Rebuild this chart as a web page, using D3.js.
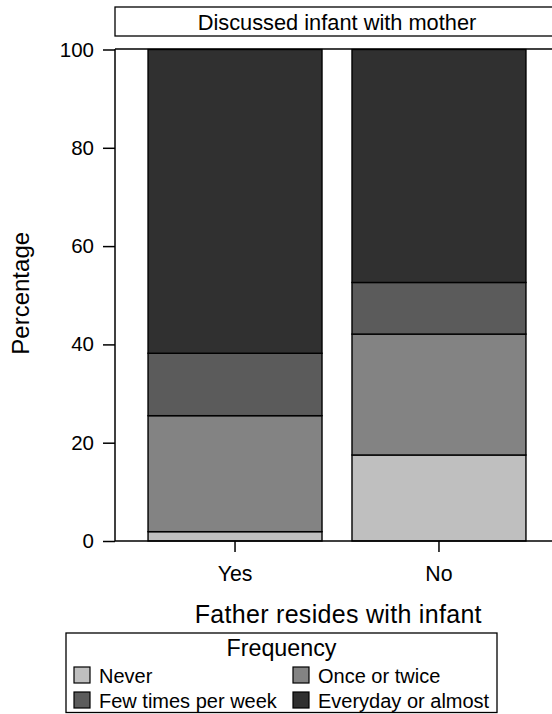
<!DOCTYPE html>
<html>
<head>
<meta charset="utf-8">
<script src="https://cdn.jsdelivr.net/npm/d3@7"></script>
<style>
  html, body { margin: 0; padding: 0; background: #fff; }
  svg { display: block; font-family: "Liberation Sans", Arial, Helvetica, sans-serif; }
</style>
</head>
<body>
<svg id="chart" width="552" height="714"></svg>
<script>
// Father residence groups along the x axis
const categories = ["Yes", "No"];
// Frequency levels, stacked bottom to top
const levels = ["Never", "Once or twice", "Few times per week", "Everyday or almost"];
// Percentage of each frequency level within each group
const never          = [1.9, 17.5];
const onceOrTwice    = [23.6, 24.6];
const fewTimesWeek   = [12.7, 10.5];
const everydayAlmost = [61.8, 47.4];
const yTicks = [0, 20, 40, 60, 80, 100];
const fills = ["#bfbfbf", "#838383", "#5b5b5b", "#303030"];

const seriesValues = [never, onceOrTwice, fewTimesWeek, everydayAlmost];
const rows = categories.map((c, i) => {
  const r = { cat: c };
  levels.forEach((l, j) => { r[l] = seriesValues[j][i]; });
  return r;
});

const svg = d3.select("#chart");
const plot = { left: 115, right: 559, top: 49, bottom: 541 };

const x = d3.scaleBand()
  .domain(categories)
  .range([plot.left, plot.right])
  .paddingInner(0.147)
  .paddingOuter(0.162);

const y = d3.scaleLinear().domain([0, 100]).range([plot.bottom, plot.top + 0.5]);

const color = d3.scaleOrdinal().domain(levels).range(fills);

// Panel header
svg.append("rect")
  .attr("x", plot.left).attr("y", 7)
  .attr("width", plot.right - plot.left).attr("height", 29)
  .attr("fill", "#fff").attr("stroke", "#000").attr("stroke-width", 1.3);
svg.append("text")
  .attr("x", (plot.left + plot.right) / 2).attr("y", 30)
  .attr("text-anchor", "middle").attr("font-size", 21.8)
  .text("Discussed infant with mother");

// Stacked bars
const stacked = d3.stack().keys(levels)(rows);
svg.append("g").selectAll("g")
  .data(stacked).join("g")
  .attr("fill", d => color(d.key))
  .selectAll("rect")
  .data(d => d).join("rect")
  .attr("x", d => x(d.data.cat))
  .attr("width", x.bandwidth())
  .attr("y", d => y(d[1]))
  .attr("height", d => y(d[0]) - y(d[1]))
  .attr("stroke", "#000").attr("stroke-width", 1.4);

// Frame top edge
svg.append("line")
  .attr("x1", plot.left).attr("x2", plot.right)
  .attr("y1", plot.top).attr("y2", plot.top)
  .attr("stroke", "#000").attr("stroke-width", 1.4);

// Y axis
const yAxis = svg.append("g")
  .attr("transform", `translate(${plot.left},0)`)
  .call(d3.axisLeft(y).tickValues(yTicks).tickSize(12).tickPadding(9));
yAxis.select(".domain").attr("stroke-width", 1.5).attr("d", `M0,${plot.top}V${plot.bottom}`);
yAxis.selectAll(".tick line").attr("stroke-width", 1.5);
yAxis.selectAll(".tick text").attr("font-size", 20.5).attr("font-family", null).attr("fill", "#000");

// X axis
const xAxis = svg.append("g")
  .attr("transform", `translate(0,${plot.bottom})`)
  .call(d3.axisBottom(x).tickSize(11).tickPadding(14));
xAxis.select(".domain").attr("stroke-width", 1.5).attr("d", `M${plot.left},0H${plot.right}`);
xAxis.selectAll(".tick line").attr("stroke-width", 1.5);
xAxis.selectAll(".tick text").attr("font-size", 21.3).attr("font-family", null).attr("fill", "#000");

// Axis titles
svg.append("text")
  .attr("transform", "translate(28.5,293.3) rotate(-90)")
  .attr("text-anchor", "middle").attr("font-size", 24)
  .text("Percentage");
svg.append("text")
  .attr("x", 338.3).attr("y", 623)
  .attr("text-anchor", "middle").attr("font-size", 25)
  .attr("letter-spacing", 0.3)
  .text("Father resides with infant");

// Legend
const lg = svg.append("g");
lg.append("rect")
  .attr("x", 66).attr("y", 633).attr("width", 431).attr("height", 79.5)
  .attr("fill", "#fff").attr("stroke", "#000").attr("stroke-width", 1.3);
lg.append("text")
  .attr("x", 281.5).attr("y", 656)
  .attr("text-anchor", "middle").attr("font-size", 23.3)
  .text("Frequency");
const itemPos = [
  { x: 74, y: 667 }, { x: 293, y: 667 },
  { x: 74, y: 692 }, { x: 293, y: 692 }
];
const items = lg.selectAll("g.item")
  .data(levels).join("g")
  .attr("class", "item")
  .attr("transform", (d, i) => `translate(${itemPos[i].x},${itemPos[i].y})`);
items.append("rect")
  .attr("width", 16).attr("height", 16)
  .attr("fill", d => color(d)).attr("stroke", "#000").attr("stroke-width", 1.2);
items.append("text")
  .attr("x", 25).attr("y", 15.5)
  .attr("font-size", 20)
  .text(d => d);
</script>
</body>
</html>
